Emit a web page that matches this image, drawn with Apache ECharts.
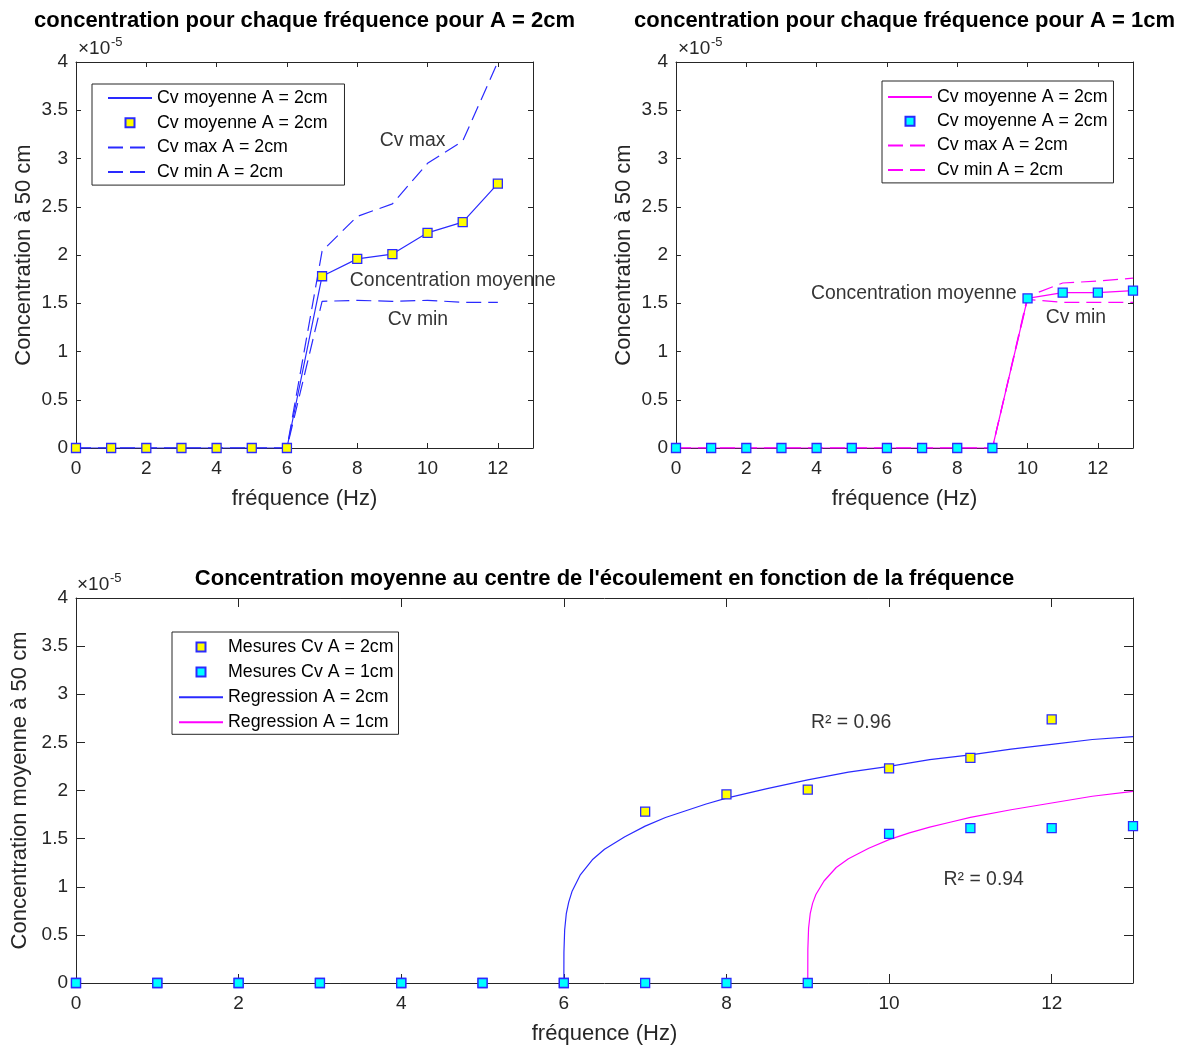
<!DOCTYPE html>
<html>
<head>
<meta charset="utf-8">
<script src="https://cdn.jsdelivr.net/npm/echarts@6/dist/echarts.min.js"></script>
<style>html,body{margin:0;padding:0;background:#fff;}#c{width:1181px;height:1048px;}</style>
</head>
<body>
<div id="c"></div>
<script>
// ---- Data (concentration values in units of 1e-5) ----
const freqA2 = [0,1,2,3,4,5,6,7,8,9,10,11,12];
const cvMoyA2 = [0,0,0,0,0,0,0,1.78,1.96,2.01,2.23,2.34,2.74];
const cvMaxA2 = [0,0,0,0,0,0,0,2.04,2.40,2.53,2.95,3.18,4.00];
const cvMinA2 = [0,0,0,0,0,0,0,1.52,1.53,1.52,1.53,1.51,1.51];

const freqA1 = [0,1,2,3,4,5,6,7,8,9,10,11,12,13];
const cvMoyA1 = [0,0,0,0,0,0,0,0,0,0,1.55,1.61,1.61,1.63];
const cvMaxA1 = [0,0,0,0,0,0,0,0,0,0,1.57,1.71,1.73,1.76];
const cvMinA1 = [0,0,0,0,0,0,0,0,0,0,1.54,1.51,1.51,1.51];

// regression curves
const regFreqA2 = [6,6.001,6.01,6.03,6.06,6.1,6.2,6.35,6.5,6.75,7,7.25,7.5,7.75,8,8.5,9,9.5,10,10.5,11,11.5,12,12.5,13];
const regCvA2   = [0,0.32,0.55,0.72,0.84,0.95,1.12,1.28,1.39,1.52,1.63,1.72,1.79,1.86,1.92,2.02,2.11,2.19,2.25,2.32,2.37,2.43,2.48,2.53,2.56];
const regFreqA1 = [9,9.001,9.01,9.03,9.06,9.1,9.2,9.35,9.5,9.75,10,10.25,10.5,10.75,11,11.5,12,12.5,13];
const regCvA1   = [0,0.35,0.57,0.72,0.83,0.92,1.06,1.20,1.29,1.40,1.49,1.56,1.62,1.67,1.72,1.80,1.87,1.94,1.99];

// axis ranges / ticks
const xMin = 0, xMax = 13, xStep = 2;
const yMin = 0, yMax = 4, yStep = 0.5;

// titles / labels
const titleA2 = 'concentration pour chaque fréquence pour A = 2cm';
const titleA1 = 'concentration pour chaque fréquence pour A = 1cm';
const titleBottom = "Concentration moyenne au centre de l'écoulement en fonction de la fréquence";
const xLabel = 'fréquence (Hz)';
const yLabelTop = 'Concentration à 50 cm';
const yLabelBottom = 'Concentration moyenne à 50 cm';

// annotations: [x, y, text] (left edge, vertical centre)
const notesA2 = [[8.64,3.19,'Cv max'],[7.79,1.73,'Concentration moyenne'],[8.87,1.33,'Cv min']];
const notesA1 = [[3.84,1.60,'Concentration moyenne'],[10.52,1.35,'Cv min']];
const notesBottom = [[9.04,2.71,'R² = 0.96'],[10.67,1.07,'R² = 0.94']];

// ---- Styling ----
const FONT = '"Liberation Sans", Arial, Helvetica, sans-serif';
const AX = '#262626';
const BLUE = '#2a2aff';
const MAG = '#ff00ff';
const DASH = [15, 7];
const SQUARE = 'path://M0,0H10V10H0Z';

const pairs = (xs, ys) => xs.map((x, i) => [x, ys[i]]);
const strip = n => n.replace(/[\u200b\u200c\u200d]/g, '');

function xAxes(grid, tickLen) {
  return [
    { type:'value', gridIndex:grid, position:'bottom', min:xMin, max:xMax, interval:xStep,
      axisLine:{show:true, onZero:false, lineStyle:{color:AX, width:1}},
      axisTick:{show:true, inside:true, length:tickLen, lineStyle:{color:AX}},
      axisLabel:{show:true, color:AX, fontSize:19, margin:11, fontFamily:FONT, showMaxLabel:false},
      splitLine:{show:false},
      name:xLabel, nameLocation:'middle', nameGap:40,
      nameTextStyle:{color:AX, fontSize:22, fontFamily:FONT} },
    { type:'value', gridIndex:grid, position:'top', min:xMin, max:xMax, interval:xStep,
      axisLine:{show:true, onZero:false, lineStyle:{color:AX, width:1}},
      axisTick:{show:true, inside:true, length:tickLen, lineStyle:{color:AX}},
      axisLabel:{show:false}, splitLine:{show:false} }
  ];
}
function yAxes(grid, tickLen, label) {
  return [
    { type:'value', gridIndex:grid, position:'left', min:yMin, max:yMax, interval:yStep,
      axisLine:{show:true, onZero:false, lineStyle:{color:AX, width:1}},
      axisTick:{show:true, inside:true, length:tickLen, lineStyle:{color:AX}},
      axisLabel:{show:true, color:AX, fontSize:19, margin:8, fontFamily:FONT},
      splitLine:{show:false},
      name:label, nameLocation:'middle', nameGap:41,
      nameTextStyle:{color:AX, fontSize:22, fontFamily:FONT} },
    { type:'value', gridIndex:grid, position:'right', min:yMin, max:yMax, interval:yStep,
      axisLine:{show:true, onZero:false, lineStyle:{color:AX, width:1}},
      axisTick:{show:true, inside:true, length:tickLen, lineStyle:{color:AX}},
      axisLabel:{show:false}, splitLine:{show:false} }
  ];
}

function noteSeries(notes, xi, yi) {
  return {
    type:'scatter', xAxisIndex:xi, yAxisIndex:yi, symbolSize:0, silent:true, z:10,
    data: notes.map(n => ({value:[n[0], n[1]], label:{formatter:n[2]}})),
    label:{show:true, position:'right', distance:0, color:'#000', fontSize:19.4, fontFamily:FONT}
  };
}

function lineS(name, xi, yi, data, color, dashed) {
  return { type:'line', name, xAxisIndex:xi, yAxisIndex:yi, data, symbol:'none',
    lineStyle:{color, width:1.2, type: dashed ? DASH : 'solid'}, itemStyle:{color},
    animation:false };
}
function markS(name, xi, yi, data, fill, size) {
  return { type:'scatter', name, xAxisIndex:xi, yAxisIndex:yi, data, symbol:'rect', symbolSize:size,
    itemStyle:{color:fill, borderColor:BLUE, borderWidth:1.3, opacity:1}, animation:false, z:3 };
}

const nA2 = ['Cv moyenne A = 2cm','Cv moyenne A = 2cm\u200b','Cv max A = 2cm','Cv min A = 2cm'];
const nA1 = ['Cv moyenne A = 2cm\u200c','Cv moyenne A = 2cm\u200c\u200b','Cv max A = 2cm\u200c','Cv min A = 2cm\u200c'];
const nB  = ['Mesures Cv A = 2cm','Mesures Cv A = 1cm','Regression A = 2cm','Regression A = 1cm'];

const lineItem = name => ({name, itemStyle:{opacity:0}});
const markItem = name => ({name, icon:SQUARE});

function legend(data, left, top, padding, gap) {
  return { data, orient:'vertical', left, top, padding, itemGap:gap, itemWidth:44, itemHeight:9,
    backgroundColor:'#fff', borderColor:AX, borderWidth:1, borderRadius:0,
    selectedMode:false, formatter:strip, symbolKeepAspect:true,
    textStyle:{color:'#000', fontSize:17.8, fontFamily:FONT, lineHeight:18} };
}

function txt(text, x, y, size, bold, align) {
  return { type:'text', x, y, silent:true,
    style:{ text, fill:'#000', font:(bold?'bold ':'') + size + 'px ' + FONT,
      textAlign:align||'left', textVerticalAlign:'middle' } };
}
function expo(x, y) {
  return [
    { type:'text', x, y, silent:true, style:{text:'×10', fill:AX, font:'19px '+FONT, textAlign:'left', textVerticalAlign:'middle'} },
    { type:'text', x:x+33, y:y-7, silent:true, style:{text:'-5', fill:AX, font:'13px '+FONT, textAlign:'left', textVerticalAlign:'middle'} }
  ];
}

const option = {
  backgroundColor:'#fff',
  animation:false,
  textStyle:{fontFamily:FONT},
  grid:[
    {left:76, top:62, width:457, height:386},
    {left:676, top:62, width:457, height:386},
    {left:76, top:598, width:1057, height:385}
  ],
  xAxis:[...xAxes(0,5), ...xAxes(1,5), ...xAxes(2,9)],
  yAxis:[...yAxes(0,5,yLabelTop), ...yAxes(1,5,yLabelTop), ...yAxes(2,9,yLabelBottom)],
  legend:[
    legend([lineItem(nA2[0]), markItem(nA2[1]), lineItem(nA2[2]), lineItem(nA2[3])], 92, 84, [5,17,4,15], 6.7),
    legend([lineItem(nA1[0]), markItem(nA1[1]), lineItem(nA1[2]), lineItem(nA1[3])], 882, 81, [7,6,4,5], 6.3),
    legend([markItem(nB[0]), markItem(nB[1]), lineItem(nB[2]), lineItem(nB[3])], 172, 632, [6,5,3,6], 7.1)
  ],
  graphic:[
    txt(titleA2, 304.5, 21, 22, true, 'center'),
    txt(titleA1, 904.5, 21, 22, true, 'center'),
    txt(titleBottom, 604.5, 579, 22, true, 'center'),
    ...expo(78, 49), ...expo(678, 49), ...expo(77, 585)
  ],
  series:[
    // top-left A = 2cm
    lineS(nA2[2], 0, 0, pairs(freqA2, cvMaxA2), BLUE, true),
    lineS(nA2[3], 0, 0, pairs(freqA2, cvMinA2), BLUE, true),
    lineS(nA2[0], 0, 0, pairs(freqA2, cvMoyA2), BLUE, false),
    markS(nA2[1], 0, 0, pairs(freqA2, cvMoyA2), '#ffff00', 9),
    noteSeries(notesA2, 0, 0),
    // top-right A = 1cm
    lineS(nA1[2], 2, 2, pairs(freqA1, cvMaxA1), MAG, true),
    lineS(nA1[3], 2, 2, pairs(freqA1, cvMinA1), MAG, true),
    lineS(nA1[0], 2, 2, pairs(freqA1, cvMoyA1), MAG, false),
    markS(nA1[1], 2, 2, pairs(freqA1, cvMoyA1), '#00ffff', 9),
    noteSeries(notesA1, 2, 2),
    // bottom
    markS(nB[0], 4, 4, pairs(freqA2, cvMoyA2), '#ffff00', 9),
    markS(nB[1], 4, 4, pairs(freqA1, cvMoyA1), '#00ffff', 9),
    lineS(nB[2], 4, 4, pairs(regFreqA2, regCvA2), BLUE, false),
    lineS(nB[3], 4, 4, pairs(regFreqA1, regCvA1), MAG, false),
    noteSeries(notesBottom, 4, 4)
  ]
};
const chart = echarts.init(document.getElementById('c'), null, {renderer:'canvas'});
chart.setOption(option);
</script>
</body>
</html>
